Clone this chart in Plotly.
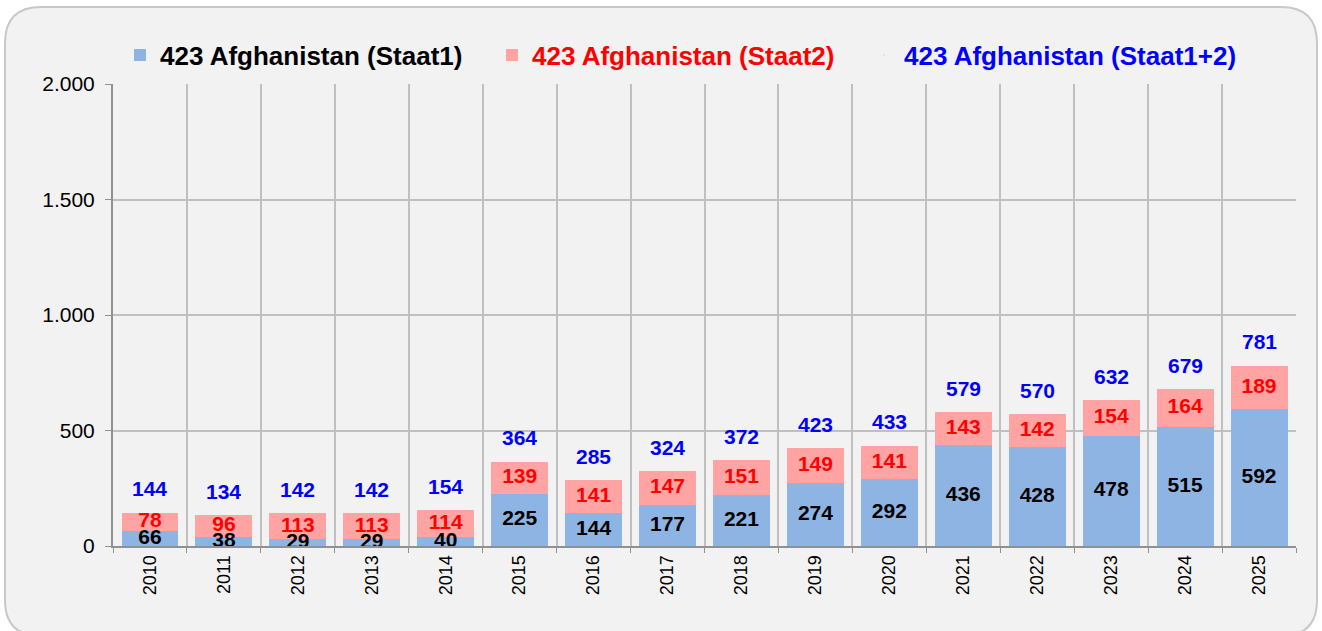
import plotly.graph_objects as go

years = [str(y) for y in range(2010, 2026)]
staat1 = [66, 38, 29, 29, 40, 225, 144, 177, 221, 274, 292, 436, 428, 478, 515, 592]
staat2 = [78, 96, 113, 113, 114, 139, 141, 147, 151, 149, 141, 143, 142, 154, 164, 189]
totals = [144, 134, 142, 142, 154, 364, 285, 324, 372, 423, 433, 579, 570, 632, 679, 781]

W, H = 1322, 631
L, R, T, B = 113, 26, 84, 85
pw, ph = W - L - R, H - T - B


def px(x):
    return (x - L) / pw


def py(y):
    return (H - B - y) / ph


FONT = "Liberation Sans, Arial, sans-serif"

fig = go.Figure()

fig.add_trace(go.Bar(
    x=years, y=staat1, name="<b>423 Afghanistan (Staat1)</b>",
    marker_color="#8EB4E3", marker_line_width=0,
))
fig.add_trace(go.Bar(
    x=years, y=staat2, name="<b><span style='color:#FF0000'>423 Afghanistan (Staat2)</span></b>",
    marker_color="#FFA3A3", marker_line_width=0,
))
# legend-only entry for the totals
fig.add_trace(go.Scatter(
    x=years, y=totals, mode="markers", marker=dict(opacity=0, size=1),
    name="<b><span style='color:#0000FF'>423 Afghanistan (Staat1+2)</span></b>",
    hoverinfo="skip",
))

# segment labels
fig.add_trace(go.Scatter(
    x=years, y=[v / 2 for v in staat1], mode="text", text=[str(v) for v in staat1],
    textposition="middle center", textfont=dict(color="black", size=21, family=FONT, weight="bold"),
    showlegend=False, cliponaxis=False, hoverinfo="skip",
))
fig.add_trace(go.Scatter(
    x=years, y=[a + b / 2 for a, b in zip(staat1, staat2)], mode="text", text=[str(v) for v in staat2],
    textposition="middle center", textfont=dict(color="#FF0000", size=21, family=FONT, weight="bold"),
    showlegend=False, cliponaxis=False, hoverinfo="skip",
))

for i, t in enumerate(totals):
    fig.add_annotation(x=i, y=t, text="<b>%d</b>" % t, showarrow=False, yanchor="middle",
                       yshift=24, font=dict(color="#0000FF", size=21, family=FONT))

# rounded frame behind the chart
x0, x1, y0, y1, r = px(5), px(1317), py(7), py(636), 36
rx, ry = r / pw, r / ph
path = (f"M {x0 + rx} {y0} L {x1 - rx} {y0} Q {x1} {y0} {x1} {y0 - ry} "
        f"L {x1} {y1 + ry} Q {x1} {y1} {x1 - rx} {y1} L {x0 + rx} {y1} "
        f"Q {x0} {y1} {x0} {y1 + ry} L {x0} {y0 - ry} Q {x0} {y0} {x0 + rx} {y0} Z")
fig.add_shape(type="path", path=path, xref="paper", yref="paper", layer="below",
              fillcolor="#F2F2F2", line=dict(color="#C8C8C8", width=2))

fig.update_layout(
    width=W, height=H,
    margin=dict(l=L, r=R, t=T, b=B, autoexpand=False),
    barmode="stack", bargap=0.23,
    paper_bgcolor="white", plot_bgcolor="#FFFFCC",
    separators=",.",
    font=dict(family=FONT, color="black"),
    legend=dict(orientation="h", x=px(120), xanchor="left", y=py(55), yanchor="middle",
                font=dict(size=26, family=FONT, color="black"), traceorder="normal",
                entrywidth=327, bgcolor="rgba(0,0,0,0)", itemclick=False),
    showlegend=True,
)
fig.update_xaxes(
    type="category", range=[-0.5, len(years) - 0.5], tickson="boundaries",
    showgrid=True, gridcolor="#C0C0C0", gridwidth=1.5,
    tickangle=-90, tickfont=dict(size=18, family=FONT, color="black"),
    ticks="outside", ticklen=5, tickcolor="#909090",
    showline=True, linecolor="#909090", linewidth=2,
)
fig.update_yaxes(
    range=[0, 2000], tickvals=[0, 500, 1000, 1500, 2000], tickformat=",d",
    showgrid=True, gridcolor="#C0C0C0", gridwidth=1.5, zeroline=False,
    tickfont=dict(size=21, family=FONT), ticks="outside", ticklen=6, tickcolor="#909090",
    ticklabelstandoff=6,
    showline=True, linecolor="#909090", linewidth=2,
)

fig.write_html("out.html", config={"displayModeBar": False},
               post_script="document.body.style.margin='0px';")
